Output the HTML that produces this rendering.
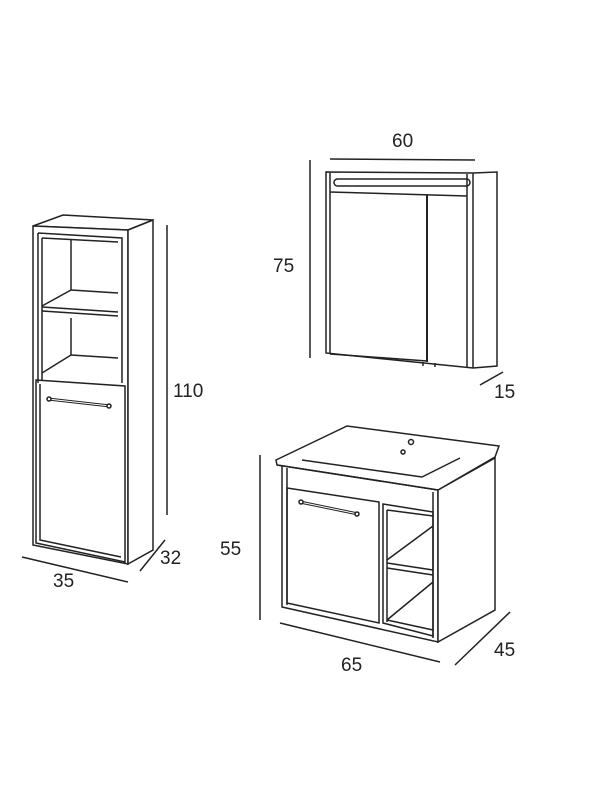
<!DOCTYPE html>
<html><head><style>body{margin:0;background:#fff}svg{display:block}</style></head><body>
<svg width="600" height="800" viewBox="0 0 600 800" xmlns="http://www.w3.org/2000/svg" fill="none" stroke="#222" stroke-width="1.5" font-family="Liberation Sans, sans-serif">
<!-- Tall cabinet -->
<polygon points="33,226 63,215 153,220 128,230" fill="#fff"/>
<polygon points="33,226 128,230 128,564 33,545" fill="#fff"/>
<polygon points="128,230 153,220 153,550 128,564" fill="#fff"/>
<polyline points="38,233 122,238 122,383"/>
<line x1="38" y1="233" x2="38" y2="383"/>
<line x1="42" y1="238" x2="42" y2="380"/>
<line x1="42" y1="238" x2="118" y2="242"/>
<line x1="71" y1="240" x2="71" y2="290"/>
<line x1="71" y1="290" x2="118" y2="293"/>
<polyline points="42,306 71,290"/>
<line x1="42" y1="307" x2="118" y2="312"/>
<line x1="42" y1="311" x2="118" y2="316"/>
<line x1="71" y1="318" x2="71" y2="355"/>
<line x1="71" y1="355" x2="118" y2="358"/>
<line x1="42" y1="373" x2="71" y2="355"/>
<polygon points="36,380 125,386 125,562 36,543"/>
<polyline points="40,384 40,540 121,557"/>
<path d="M48,399 L110,406" stroke-width="3"/>
<path d="M48,399 L110,406" stroke="#fff" stroke-width="1"/>
<circle cx="49" cy="399" r="2" fill="#fff"/>
<circle cx="109" cy="406" r="2" fill="#fff"/>
<line x1="167" y1="225" x2="167" y2="515"/>
<line x1="140" y1="571" x2="165" y2="540"/>
<line x1="22" y1="557" x2="128" y2="582"/>
<!-- Mirror cabinet -->
<polygon points="326,172 473,173 497,172 497,366 473,368 326,353" fill="#fff"/>
<line x1="473" y1="173" x2="473" y2="368"/>
<line x1="330" y1="173" x2="330" y2="354"/>
<line x1="467" y1="174" x2="467" y2="367"/>
<line x1="330" y1="192" x2="467" y2="196"/>
<rect x="334" y="179" width="136" height="7" rx="3.5"/>
<line x1="427" y1="195" x2="427" y2="362" stroke-width="2"/>
<line x1="330" y1="354" x2="427" y2="361"/>
<line x1="423" y1="362" x2="423" y2="366"/>
<line x1="435" y1="363" x2="435" y2="367"/>
<line x1="310" y1="160" x2="310" y2="358"/>
<line x1="330" y1="159" x2="475" y2="160"/>
<line x1="480" y1="385" x2="503" y2="372"/>
<!-- Vanity -->
<polygon points="282,465 438,490 438,642 282,607" fill="#fff"/>
<polygon points="438,490 495,458 495,610 438,642" fill="#fff"/>
<polygon points="276,460 347,426 499,446 495,457 438,490 277,465" fill="#fff"/>
<line x1="277" y1="465" x2="438" y2="490"/>
<polyline points="302,460 422,477 460,458"/>
<circle cx="411" cy="442" r="2.5"/>
<circle cx="403" cy="452" r="2"/>
<line x1="287" y1="468" x2="287" y2="605"/>
<line x1="433" y1="492" x2="433" y2="638"/>
<polygon points="287,488 379,502 379,623 287,603"/>
<path d="M300,502 L358,514" stroke-width="3"/>
<path d="M300,502 L358,514" stroke="#fff" stroke-width="1"/>
<circle cx="301" cy="502" r="2" fill="#fff"/>
<circle cx="357" cy="514" r="2" fill="#fff"/>
<polygon points="383,504 433,512 433,636 383,623"/>
<line x1="387" y1="510" x2="433" y2="516"/>
<line x1="387" y1="510" x2="387" y2="622"/>
<line x1="387" y1="563" x2="433" y2="570"/>
<line x1="387" y1="568" x2="433" y2="575"/>
<line x1="387" y1="560" x2="433" y2="526"/>
<line x1="387" y1="620" x2="433" y2="582"/>
<line x1="387" y1="620" x2="433" y2="630"/>
<line x1="260" y1="455" x2="260" y2="620"/>
<line x1="280" y1="623" x2="440" y2="662"/>
<line x1="455" y1="665" x2="510" y2="612"/>
<g fill="#222" stroke="none" font-size="19">
<text x="173" y="397">110</text>
<text x="160" y="564">32</text>
<text x="53" y="587">35</text>
<text x="392" y="147">60</text>
<text x="273" y="272">75</text>
<text x="494" y="398">15</text>
<text x="220" y="555">55</text>
<text x="341" y="671">65</text>
<text x="494" y="656">45</text>
</g>
</svg>
</body></html>
